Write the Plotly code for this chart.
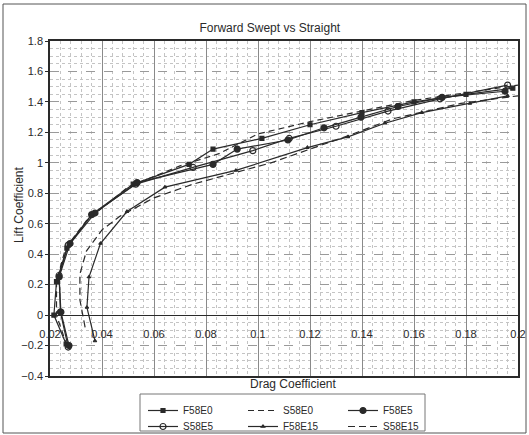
import plotly.graph_objects as go

# ---- data ----
F58E0_x = [0.0262, 0.0215, 0.0225, 0.0265, 0.036, 0.052, 0.0735, 0.0827, 0.1015, 0.12, 0.14, 0.16, 0.18, 0.198]
F58E0_y = [-0.19, 0.00, 0.22, 0.44, 0.66, 0.86, 0.99, 1.09, 1.16, 1.25, 1.33, 1.40, 1.45, 1.49]

S58E0_x = [0.0265, 0.0225, 0.0225, 0.026, 0.034, 0.05, 0.07, 0.085, 0.1, 0.12, 0.14, 0.16, 0.18, 0.2]
S58E0_y = [-0.20, 0.00, 0.22, 0.44, 0.62, 0.84, 0.98, 1.06, 1.19, 1.27, 1.34, 1.41, 1.46, 1.51]

F58E5_x = [0.0273, 0.0242, 0.0235, 0.0277, 0.0373, 0.0535, 0.0827, 0.092, 0.1115, 0.1254, 0.1396, 0.1538, 0.1708, 0.195]
F58E5_y = [-0.20, 0.02, 0.25, 0.47, 0.67, 0.87, 0.99, 1.09, 1.15, 1.23, 1.30, 1.37, 1.43, 1.47]

S58E5_x = [0.027, 0.024, 0.0235, 0.027, 0.036, 0.053, 0.075, 0.098, 0.112, 0.13, 0.15, 0.17, 0.196]
S58E5_y = [-0.21, 0.02, 0.26, 0.46, 0.66, 0.86, 0.97, 1.08, 1.16, 1.24, 1.34, 1.42, 1.51]

F58E15_x = [0.0373, 0.0342, 0.035, 0.0394, 0.0496, 0.0642, 0.0915, 0.119, 0.1346, 0.1488, 0.163, 0.1815, 0.196]
F58E15_y = [-0.17, 0.05, 0.25, 0.47, 0.68, 0.84, 0.95, 1.10, 1.17, 1.26, 1.33, 1.39, 1.44]

S58E15_x = [0.0335, 0.0315, 0.0315, 0.034, 0.04, 0.047, 0.06, 0.075, 0.09, 0.105, 0.12, 0.135, 0.152, 0.178, 0.2]
S58E15_y = [-0.08, 0.10, 0.27, 0.42, 0.56, 0.65, 0.77, 0.86, 0.93, 1.00, 1.09, 1.18, 1.29, 1.39, 1.44]

x_ticks = [0.02, 0.04, 0.06, 0.08, 0.1, 0.12, 0.14, 0.16, 0.18, 0.2]
x_ticktext = ["0.02", "0.04", "0.06", "0.08", "0.1", "0.12", "0.14", "0.16", "0.18", "0.2"]

FONT = "Liberation Sans Narrow, Liberation Sans, Arial, sans-serif"
INK = "#2a2a2a"

# plot-area pixel geometry (figure 529x435)
L, R, T, B = 50, 518, 41, 376
PW, PH = R - L, B - T
def px_x(p): return (p - L) / PW
def px_y(p): return (B - p) / PH

fig = go.Figure()

def add(name, xs, ys, legend, dash="solid", symbol=None, size=5, fill=INK):
    mode = "lines+markers" if symbol else "lines"
    fig.add_trace(go.Scatter(
        x=xs, y=ys, name=name, mode=mode, legend=legend,
        line=dict(color=INK, width=1.2, dash=dash),
        marker=dict(symbol=symbol or "circle", size=size, color=fill,
                    line=dict(color=INK, width=1.2)),
    ))

add("F58E0", F58E0_x, F58E0_y, "legend", symbol="square", size=4)
add("S58E0", S58E0_x, S58E0_y, "legend", dash="6px,4px")
add("F58E5", F58E5_x, F58E5_y, "legend", symbol="circle", size=6)
add("S58E5", S58E5_x, S58E5_y, "legend2", symbol="circle-open", size=6)
add("F58E15", F58E15_x, F58E15_y, "legend2", symbol="triangle-up", size=3)
add("S58E15", S58E15_x, S58E15_y, "legend2", dash="7px,4px")

# dummy trace to carry the tick-label axis that crosses at y = 0
fig.add_trace(go.Scatter(x=[], y=[], xaxis="x2", showlegend=False, hoverinfo="skip"))

leg_common = dict(orientation="h", xanchor="left", yanchor="top", borderwidth=0,
                  entrywidth=55, itemwidth=30, font=dict(size=10, family=FONT),
                  bgcolor="rgba(0,0,0,0)", tracegroupgap=0)

fig.update_layout(
    width=529, height=435,
    margin=dict(l=L, r=529 - R, t=T, b=435 - B, autoexpand=False),
    paper_bgcolor="white", plot_bgcolor="white",
    font=dict(family=FONT, size=11, color=INK),
    title=dict(text="Forward Swept vs Straight", x=0.51, xanchor="center",
               y=1 - 28 / 435, yanchor="middle", font=dict(size=12, family=FONT)),
    xaxis=dict(range=[0.02, 0.2], dtick=0.02, tick0=0.02, showticklabels=False,
               showgrid=True, gridcolor="#8a8a8a", gridwidth=1,
               minor=dict(dtick=0.004, showgrid=True, gridcolor="#c4c4c4", griddash="dot"),
               showline=True, linecolor=INK, linewidth=1.5, mirror=True,
               zeroline=False, ticks="", automargin=False),
    xaxis2=dict(range=[0.02, 0.2], overlaying="x", anchor="free", position=px_y(326),
                side="bottom", tickvals=x_ticks, ticktext=x_ticktext,
                showgrid=False, showline=False, zeroline=False, ticks="",
                tickfont=dict(size=11, family=FONT), automargin=False),
    yaxis=dict(range=[-0.4, 1.8], dtick=0.2, tick0=0,
               showgrid=True, gridcolor="#9a9a9a", griddash="dash",
               minor=dict(dtick=0.05, showgrid=True, gridcolor="#c4c4c4", griddash="dot"),
               showline=True, linecolor=INK, linewidth=1.5, mirror=True,
               zeroline=True, zerolinecolor=INK, zerolinewidth=1,
               ticks="outside", ticklen=3, tickcolor=INK, automargin=False),
    legend=dict(x=px_x(143), y=px_y(396), **leg_common),
    legend2=dict(x=px_x(143), y=px_y(412), **leg_common),
    showlegend=True,
)

fig.add_annotation(text="Drag Coefficient", xref="paper", yref="paper",
                   x=px_x(293), y=px_y(384), showarrow=False,
                   xanchor="center", yanchor="middle", font=dict(size=12, family=FONT))
fig.add_annotation(text="Lift Coefficient", xref="paper", yref="paper",
                   x=px_x(19), y=px_y(205), showarrow=False, textangle=-90,
                   xanchor="center", yanchor="middle", font=dict(size=12, family=FONT))

# legend box
fig.add_shape(type="rect", xref="paper", yref="paper",
              x0=px_x(140), x1=px_x(425), y0=px_y(431), y1=px_y(394),
              line=dict(color="#777", width=1), fillcolor="rgba(0,0,0,0)", layer="below")

# outer chart border
fig.add_shape(type="rect", xref="paper", yref="paper",
              x0=px_x(3), x1=px_x(526), y0=px_y(433), y1=px_y(4),
              line=dict(color="#555", width=1), fillcolor="rgba(0,0,0,0)", layer="below")

fig.write_html("out.html", config={"displayModeBar": False},
               post_script="document.body.style.margin='0';document.body.style.overflow='hidden';")
